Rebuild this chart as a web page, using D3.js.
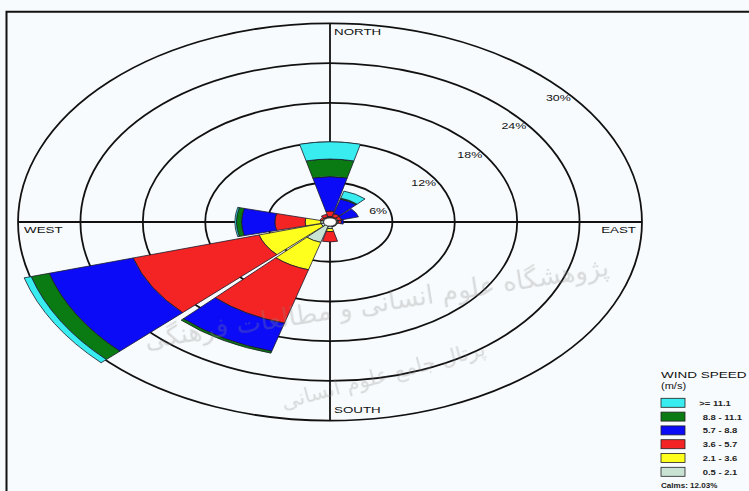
<!DOCTYPE html>
<html>
<head>
<meta charset="utf-8">
<script src="https://cdn.jsdelivr.net/npm/d3@7"></script>
<style>
  html, body { margin: 0; padding: 0; background: #f8fbfd; }
  svg { display: block; font-family: "Liberation Sans", Arial, sans-serif; }
</style>
</head>
<body>
<svg id="chart" width="749" height="491"></svg>
<script>
// ---------------- data ----------------
const directions = [0, 30, 60, 90, 120, 150, 180, 210, 240, 270, 300, 330];   // bearing (deg)
const speedBins  = ["0.5 - 2.1", "2.1 - 3.6", "3.6 - 5.7", "5.7 - 8.8", "8.8 - 11.1", ">= 11.1"];
const binColors  = ["#c8e3d3", "#ffff1e", "#f42424", "#0b0bf8", "#0a7b12", "#38ecf0"];
// frequency (%) per direction for each wind-speed class
const freq0521  = [0.70, 0.70, 0.70, 0.70, 0.70, 0.70, 1.00, 3.20, 0.90, 0.90, 0.70, 0.70];
const freq2136  = [0.15, 0.10, 0.10, 0.10, 0.05, 0.05, 0.45, 4.30, 6.20, 1.50, 0.10, 0.10];
const freq3657  = [0.80, 0.50, 0.40, 0.30, 0.00, 0.00, 1.55, 8.40, 12.6, 2.90, 0.20, 0.40];
const freq5788  = [5.20, 2.30, 1.65, 0.20, 0.00, 0.00, 0.00, 4.40, 8.40, 3.20, 0.00, 0.00];
const freq88111 = [2.65, 0.15, 0.00, 0.00, 0.00, 0.00, 0.00, 0.30, 1.80, 0.50, 0.00, 0.00];
const freq111   = [2.60, 1.10, 0.00, 0.00, 0.00, 0.00, 0.00, 0.00, 0.70, 0.15, 0.00, 0.00];
const ringTicks = [6, 12, 18, 24, 30];
const ringLabels = ["6%", "12%", "18%", "24%", "30%"];
const calmPct = 0.62;
const calmsText = "Calms: 12.03%";
const compass = [{t: "NORTH", b: 0}, {t: "EAST", b: 90}, {t: "SOUTH", b: 180}, {t: "WEST", b: 270}];

// ---------------- layout ----------------
const cx = 330, cy = 222;
const stretch = 1.570;            // horizontal stretch of the rose
const halfWidth = 14;             // wedge half width (deg)
const rad = d => d * Math.PI / 180;

const svg = d3.select("#chart");
const r = d3.scaleLinear().domain([0, 30]).range([0, 198.7]);
const rX = p => r(p) * stretch, rY = p => r(p);
const proj = (p, b) => [cx + rX(p) * Math.sin(rad(b)), cy - rY(p) * Math.cos(rad(b))];

// background
svg.append("rect").attr("width", 749).attr("height", 491).attr("fill", "#f8fbfd");
// frame
svg.append("path").attr("d", "M6.5,491V11.7H749").attr("fill", "none")
  .attr("stroke", "#111").attr("stroke-width", 2);

const rose = svg.append("g").attr("transform", `translate(${cx},${cy}) scale(${stretch},1)`);

// rings
rose.selectAll("circle.ring").data(ringTicks).join("circle")
  .attr("class", "ring").attr("r", d => r(d))
  .attr("fill", "none").attr("stroke", "#111").attr("stroke-width", 1.8)
  .attr("vector-effect", "non-scaling-stroke");
// axes
rose.append("line").attr("x1", -r(30)).attr("x2", r(30)).attr("y1", 0).attr("y2", 0)
  .attr("stroke", "#111").attr("stroke-width", 1.8).attr("vector-effect", "non-scaling-stroke");
rose.append("line").attr("y1", -r(30)).attr("y2", r(30)).attr("x1", 0).attr("x2", 0)
  .attr("stroke", "#111").attr("stroke-width", 1.8).attr("vector-effect", "non-scaling-stroke");

// stacked wedges
const series = [freq0521, freq2136, freq3657, freq5788, freq88111, freq111];
const rows = directions.map((dir, i) => {
  const o = {dir};
  speedBins.forEach((k, j) => o[k] = series[j][i]);
  return o;
});
const stacked = d3.stack().keys(speedBins)(rows);
const arc = d3.arc();
stacked.forEach((layer, j) => {
  rose.append("g").selectAll("path").data(layer.filter(d => d[1] > calmPct && d[1] > d[0])).join("path")
    .attr("d", d => arc({
      innerRadius: r(Math.max(d[0], calmPct)),
      outerRadius: r(d[1]),
      startAngle: rad(d.data.dir - halfWidth),
      endAngle: rad(d.data.dir + halfWidth)
    }))
    .attr("fill", binColors[j])
    .attr("stroke", "#1a1a2a").attr("stroke-width", 0.8)
    .attr("vector-effect", "non-scaling-stroke");
});

// calm circle
rose.append("circle").attr("r", r(calmPct)).attr("fill", "#ffffff")
  .attr("stroke", "#222").attr("stroke-width", 0.8).attr("vector-effect", "non-scaling-stroke");

// ring labels
const labelBearings = [74.5, 61, 56, 53, 51.4];
ringTicks.forEach((p, i) => {
  const [x, y] = proj(p, labelBearings[i]);
  svg.append("g").attr("transform", `translate(${x - 3},${y + 2.5}) scale(1.38,1)`)
    .append("text").attr("text-anchor", "end").attr("font-size", 9).attr("fill", "#111")
    .text(ringLabels[i]);
});

// compass labels
compass.forEach(c => {
  let x, y, anchor = "start";
  const [px, py] = proj(30, c.b);
  if (c.b === 0)   { x = px + 4;  y = py + 11.7; }
  if (c.b === 180) { x = px + 4;  y = py - 7.7; }
  if (c.b === 270) { x = px + 6;  y = py + 11; }
  if (c.b === 90)  { x = px - 6;  y = py + 11; anchor = "end"; }
  svg.append("g").attr("transform", `translate(${x},${y}) scale(1.42,1)`)
    .append("text").attr("text-anchor", anchor).attr("font-size", 9.4).attr("fill", "#111")
    .text(c.t);
});

// legend
const lg = svg.append("g");
lg.append("g").attr("transform", "translate(661,378.3) scale(1.5,1)")
  .append("text").attr("font-size", 9).attr("fill", "#111").text("WIND SPEED");
lg.append("g").attr("transform", "translate(661,389) scale(1.3,1)")
  .append("text").attr("font-size", 8.5).attr("fill", "#111").text("(m/s)");
const legendOrder = d3.range(speedBins.length).reverse();
const ly = d3.scalePoint().domain(legendOrder).range([398.3, 467.3]);
legendOrder.forEach(j => {
  lg.append("rect").attr("x", 661).attr("y", ly(j)).attr("width", 24).attr("height", 9)
    .attr("fill", binColors[j]).attr("stroke", "#222").attr("stroke-width", 0.8);
  lg.append("g").attr("transform", `translate(${j === 5 ? 699.3 : 702.7},${ly(j) + 7.5}) scale(1.35,1)`)
    .append("text").attr("font-size", 7).attr("font-weight", "bold").attr("fill", "#222")
    .text(speedBins[j]);
});
lg.append("g").attr("transform", "translate(661,487.7) scale(1.12,1)")
  .append("text").attr("font-size", 7.2).attr("font-weight", "bold").attr("fill", "#222")
  .text(calmsText);

// watermark
const wm = svg.append("g").attr("fill", "#8a8a8a").attr("opacity", 0.3)
  .attr("font-family", "DejaVu Sans, sans-serif").attr("text-anchor", "middle");
wm.append("text").attr("transform", "translate(378,312) rotate(-9)").attr("font-size", 26)
  .text("پژوهشگاه علوم انسانی و مطالعات فرهنگی");
wm.append("text").attr("transform", "translate(385,382) rotate(-15)").attr("font-size", 21)
  .text("پرتال جامع علوم انسانی");
</script>
</body>
</html>
